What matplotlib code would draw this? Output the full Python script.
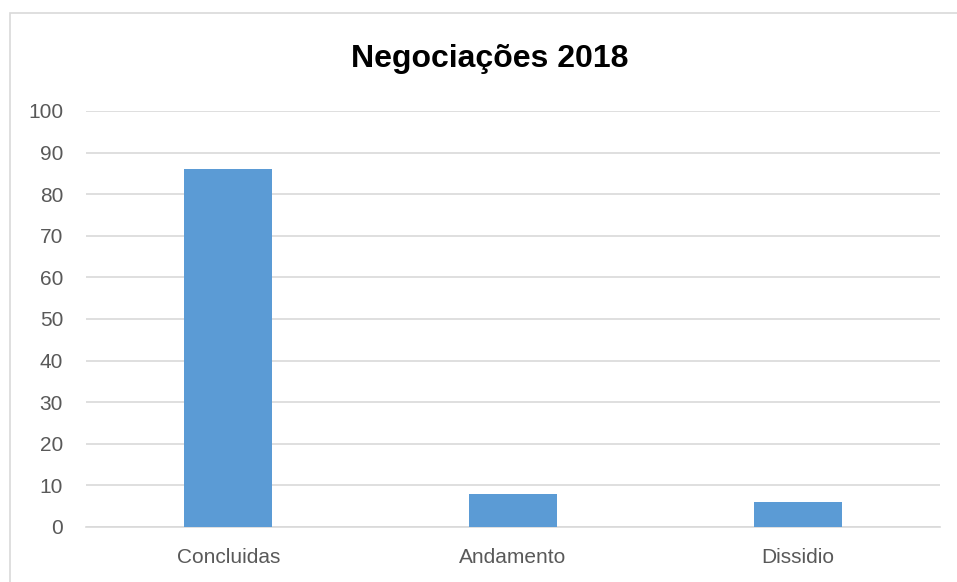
import matplotlib.pyplot as plt
from matplotlib.patches import Rectangle

categories = ['Concluidas', 'Andamento', 'Dissidio']
values = [86, 8, 6]
yticks = [0, 10, 20, 30, 40, 50, 60, 70, 80, 90, 100]

plt.rcParams['font.family'] = ['Liberation Sans', 'DejaVu Sans']

W, H = 957, 582
fig = plt.figure(figsize=(W / 100, H / 100), dpi=100)
ax = fig.add_axes([86 / W, 1 - 527 / H, (940 - 86) / W, (527 - 111) / H])

# outer chart border (Excel style)
fig.patches.append(Rectangle((10 / W, -0.1), 1.2, 1.1 - 13 / H, transform=fig.transFigure,
                             fill=False, edgecolor='#D9D9D9', linewidth=1.2))

x = range(len(categories))
ax.bar(x, values, width=0.31, color='#5B9BD5', zorder=3)

ax.set_xlim(-0.5, 2.5)
ax.set_ylim(0, 100)
ax.set_yticks(yticks)
ax.set_xticks(list(x))
ax.set_xticklabels(categories)
ax.grid(axis='y', color='#D9D9D9', linewidth=1.2, zorder=0)
for s in ['top', 'right', 'left']:
    ax.spines[s].set_visible(False)
ax.spines['bottom'].set_color('#D9D9D9')
ax.spines['bottom'].set_linewidth(1.2)
ax.tick_params(axis='both', length=0, labelsize=15, labelcolor='#595959')
ax.tick_params(axis='y', pad=16.5)
ax.tick_params(axis='x', pad=15)

fig.text(490 / W, 1 - 67 / H, 'Negociações 2018', ha='center', va='baseline',
         fontsize=23, fontweight='bold', color='black')

fig.savefig('out.png', dpi=100)
